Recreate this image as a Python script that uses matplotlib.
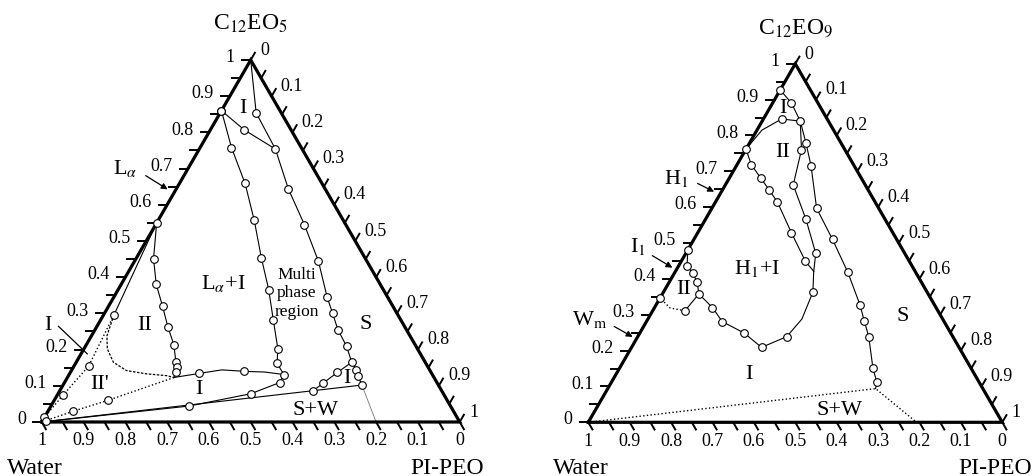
import numpy as np
import matplotlib.pyplot as plt

plt.rcParams['font.family'] = ['Liberation Serif', 'DejaVu Serif']
plt.rcParams['mathtext.fontset'] = 'stix'

SQ3 = np.sqrt(3) / 2

# compositions are (surfactant, water) fractions; PI-PEO = 1 - s - w

# ---- C12EO5 / water / PI-PEO ----
eo5_right_s = [1.0, 0.854, 0.754, 0.644, 0.545, 0.444, 0.344, 0.300, 0.255, 0.209, 0.165]
eo5_right_w = [0.0, 0.060, 0.064, 0.088, 0.099, 0.116, 0.145, 0.154, 0.164, 0.166, 0.176]
eo5_right_m = list(range(1, 11))

eo5_tie_s = [0.86, 0.807, 0.754]
eo5_tie_w = [0.14, 0.112, 0.064]

eo5_mid_s = [0.86, 0.758, 0.659, 0.557, 0.453, 0.366, 0.282, 0.202, 0.162, 0.131, 0.109, 0.078, 0.044, 0.0]
eo5_mid_w = [0.14, 0.167, 0.184, 0.213, 0.248, 0.274, 0.305, 0.334, 0.356, 0.355, 0.376, 0.461, 0.626, 1.0]
eo5_mid_m = list(range(0, 13))

eo5_lobe_s = [0.123, 0.134, 0.144, 0.140, 0.138, 0.131]
eo5_lobe_w = [0.622, 0.557, 0.497, 0.446, 0.397, 0.355]
eo5_lobe_m = [1, 3]

eo5_sw_s = [0.0, 0.102]
eo5_sw_w = [1.0, 0.183]

eo5_loopr_s = [0.165, 0.145, 0.126, 0.102]
eo5_loopr_w = [0.176, 0.175, 0.180, 0.183]
eo5_loopl_s = [0.165, 0.137, 0.108, 0.086]
eo5_loopl_w = [0.176, 0.224, 0.272, 0.308]

eo5_grey_s = [0.102, 0.0]
eo5_grey_w = [0.183, 0.20]

eo5_ii_s = [0.55, 0.451, 0.380, 0.320, 0.262, 0.214, 0.166, 0.153, 0.139, 0.123]
eo5_ii_w = [0.45, 0.507, 0.536, 0.551, 0.567, 0.577, 0.596, 0.600, 0.610, 0.622]
eo5_ii_m = list(range(0, 9))

eo5_pq_s = [0.55, 0.296]
eo5_pq_w = [0.45, 0.679]

eo5_qdot_s = [0.296, 0.154, 0.075, 0.013]
eo5_qdot_w = [0.679, 0.811, 0.911, 0.987]

eo5_jdot_s = [0.123, 0.060, 0.030, 0.004]
eo5_jdot_w = [0.622, 0.811, 0.909, 0.988]

eo5_dash_s = [0.296, 0.238, 0.202, 0.165, 0.142, 0.133, 0.128, 0.123]
eo5_dash_w = [0.679, 0.725, 0.742, 0.746, 0.726, 0.683, 0.637, 0.622]

# ---- C12EO9 / water / PI-PEO ----
eo9_main_s = [0.927, 0.891, 0.840, 0.778, 0.716, 0.597, 0.510, 0.418, 0.327, 0.283, 0.239, 0.151, 0.112, 0.094]
eo9_main_w = [0.073, 0.064, 0.068, 0.085, 0.104, 0.150, 0.155, 0.164, 0.180, 0.192, 0.203, 0.237, 0.247, 0.259]
eo9_main_m = list(range(0, 13))

eo9_iitop_s = [0.762, 0.815, 0.846, 0.840]
eo9_iitop_w = [0.238, 0.173, 0.110, 0.068]
eo9_iitop_m = [0, 2]

eo9_iileft_s = [0.840, 0.760, 0.662, 0.567, 0.471, 0.421]
eo9_iileft_w = [0.068, 0.105, 0.174, 0.191, 0.215, 0.245]
eo9_iileft_m = [1, 2, 3, 4]

eo9_h1_s = [0.762, 0.719, 0.682, 0.649, 0.614, 0.529, 0.449, 0.421]
eo9_h1_w = [0.238, 0.247, 0.243, 0.239, 0.236, 0.245, 0.251, 0.245]
eo9_h1_m = [1, 2, 3, 4, 5, 6]

eo9_loop_s = [0.421, 0.363, 0.288, 0.239, 0.209, 0.249, 0.281, 0.320, 0.358, 0.392, 0.416, 0.437, 0.481]
eo9_loop_w = [0.245, 0.276, 0.340, 0.401, 0.477, 0.499, 0.536, 0.540, 0.554, 0.541, 0.540, 0.543, 0.519]
eo9_loop_m = [1, 3, 4, 5, 6, 7, 8, 9, 10, 11, 12]

eo9_i1_s = [0.358, 0.311]
eo9_i1_w = [0.554, 0.611]

eo9_wm_s = [0.311, 0.319, 0.347]
eo9_wm_w = [0.611, 0.643, 0.653]

eo9_sw_s = [0.0, 0.094, 0.0]
eo9_sw_w = [1.0, 0.259, 0.207]

TICK_FS = 13
REGION_FS = 16
NAME_FS = 17


def tern(s, w):
    s = np.asarray(s, float)
    w = np.asarray(w, float)
    return 1 - w - s / 2, s * SQ3


def curve(ax, s, w, marks=None, ls='-', lw=0.8, color='k'):
    x, y = tern(s, w)
    ax.plot(x, y, color=color, lw=lw, ls=ls, zorder=2)
    if marks is not None:
        ax.plot(x[marks], y[marks], 'o', ms=5.5, mfc='white', mec='k',
                mew=0.8, zorder=4)


def frame(ax, title):
    ax.plot([0, 1, 0.5, 0], [0, 0, SQ3, 0], color='k', lw=2.3,
            solid_joinstyle='miter', zorder=3)
    tl = 0.02
    for t in np.round(np.arange(0, 1.0001, 0.05), 2):
        x, y = t / 2, t * SQ3
        ax.plot([x, x - tl], [y, y], color='k', lw=1.4, zorder=3)
        x = 1 - t
        ax.plot([x, x + tl / 2], [0, -tl * SQ3], color='k', lw=1.4, zorder=3)
        x, y = 0.5 + t / 2, (1 - t) * SQ3
        ax.plot([x, x + tl / 2], [y, y + tl * SQ3], color='k', lw=1.4, zorder=3)
    for t in np.round(np.arange(0, 1.0001, 0.1), 1):
        lab = f'{t:g}'
        ax.text(t / 2 - 0.038, t * SQ3 + 0.008, lab, ha='right', va='center', fontsize=TICK_FS)
        ax.text(1 - t, -0.043, lab, ha='center', va='center', fontsize=TICK_FS)
        ax.text(0.5 + t / 2 + 0.022, (1 - t) * SQ3 + 0.026, lab, ha='left', va='center',
                fontsize=TICK_FS)
    ax.text(0.5, 0.955, title, ha='center', va='center', fontsize=NAME_FS)
    ax.text(-0.017, -0.108, 'Water', ha='center', va='center', fontsize=NAME_FS)
    ax.set_aspect('equal')
    ax.axis('off')


fig = plt.figure(figsize=(10.32, 4.77), dpi=100)
ax1 = fig.add_axes([0, 0, 0.5, 1])
ax1.set_xlim(-0.0998, -0.0998 + 516 / 418)
ax1.set_ylim(-0.1292, -0.1292 + 477 / 418)
ax2 = fig.add_axes([0.5, 0, 0.5, 1])
ax2.set_xlim(-0.1746, -0.1746 + 516 / 414)
ax2.set_ylim(-0.1297, -0.1297 + 477 / 414)

# left diagram
frame(ax1, r'C$_{12}$EO$_5$')
ax1.text(0.97, -0.108, 'PI-PEO', ha='center', va='center', fontsize=NAME_FS)
curve(ax1, eo5_right_s, eo5_right_w, eo5_right_m)
curve(ax1, eo5_tie_s, eo5_tie_w, [0, 1])
curve(ax1, eo5_mid_s, eo5_mid_w, eo5_mid_m)
curve(ax1, eo5_lobe_s, eo5_lobe_w, eo5_lobe_m)
curve(ax1, eo5_sw_s, eo5_sw_w)
curve(ax1, eo5_loopr_s, eo5_loopr_w, [1, 2, 3])
curve(ax1, eo5_loopl_s, eo5_loopl_w, [1, 2, 3])
curve(ax1, eo5_grey_s, eo5_grey_w, lw=0.6, color='0.45')
curve(ax1, eo5_ii_s, eo5_ii_w, eo5_ii_m)
curve(ax1, eo5_pq_s, eo5_pq_w, [1])
curve(ax1, eo5_qdot_s, eo5_qdot_w, [1, 2, 3], ls=':', lw=1.0)
curve(ax1, eo5_jdot_s, eo5_jdot_w, [1, 2, 3], ls=':', lw=1.0)
curve(ax1, eo5_dash_s, eo5_dash_w, ls=(0, (2, 1.2)), lw=0.9)

ax1.text(0.481, 0.753, 'I', ha='center', va='center', fontsize=REGION_FS)
ax1.text(0.434, 0.334, r'L$_\alpha$+I', ha='center', va='center', fontsize=REGION_FS)
ax1.text(0.610, 0.310, 'Multi\nphase\nregion', ha='center', va='center',
         fontsize=12.5, linespacing=1.2)
ax1.text(0.245, 0.234, 'II', ha='center', va='center', fontsize=REGION_FS)
ax1.text(0.139, 0.091, "II'", ha='center', va='center', fontsize=REGION_FS)
ax1.text(0.377, 0.079, 'I', ha='center', va='center', fontsize=REGION_FS)
ax1.text(0.775, 0.236, 'S', ha='center', va='center', fontsize=REGION_FS)
ax1.text(0.730, 0.107, 'I', ha='center', va='center', fontsize=REGION_FS)
ax1.text(0.654, 0.031, 'S+W', ha='center', va='center', fontsize=REGION_FS)
ax1.text(0.014, 0.234, 'I', ha='center', va='center', fontsize=REGION_FS)
ax1.plot([0.040, 0.109], [0.229, 0.163], color='k', lw=0.9, zorder=5)
ax1.text(0.199, 0.610, r'L$_\alpha$', ha='center', va='center', fontsize=REGION_FS)
arrow = dict(arrowstyle='-|>', lw=0.9, color='k', mutation_scale=9)
ax1.annotate('', xy=(0.307, 0.553), xytext=(0.243, 0.593), arrowprops=arrow)

# right diagram
frame(ax2, r'C$_{12}$EO$_9$')
ax2.text(1.072, -0.108, 'PI-PEO', ha='right', va='center', fontsize=NAME_FS)
curve(ax2, eo9_main_s, eo9_main_w, eo9_main_m)
curve(ax2, eo9_iitop_s, eo9_iitop_w, eo9_iitop_m)
curve(ax2, eo9_iileft_s, eo9_iileft_w, eo9_iileft_m)
curve(ax2, eo9_h1_s, eo9_h1_w, eo9_h1_m)
curve(ax2, eo9_loop_s, eo9_loop_w, eo9_loop_m)
curve(ax2, eo9_i1_s, eo9_i1_w, [1])
curve(ax2, eo9_wm_s, eo9_wm_w, [2], ls=':', lw=1.0)
curve(ax2, eo9_sw_s, eo9_sw_w, ls=':', lw=1.0)

ax2.text(0.471, 0.761, 'I', ha='center', va='center', fontsize=REGION_FS)
ax2.text(0.469, 0.654, 'II', ha='center', va='center', fontsize=REGION_FS)
ax2.text(0.407, 0.374, r'H$_1$+I', ha='center', va='center', fontsize=REGION_FS)
ax2.text(0.230, 0.322, 'II', ha='center', va='center', fontsize=REGION_FS)
ax2.text(0.387, 0.117, 'I', ha='center', va='center', fontsize=REGION_FS)
ax2.text(0.759, 0.259, 'S', ha='center', va='center', fontsize=REGION_FS)
ax2.text(0.608, 0.032, 'S+W', ha='center', va='center', fontsize=REGION_FS)

ax2.text(0.2135, 0.592, r'H$_1$', ha='center', va='center', fontsize=REGION_FS)
ax2.annotate('', xy=(0.310, 0.554), xytext=(0.258, 0.580), arrowprops=arrow)
ax2.text(0.121, 0.427, r'I$_1$', ha='center', va='center', fontsize=REGION_FS)
ax2.annotate('', xy=(0.209, 0.370), xytext=(0.149, 0.406), arrowprops=arrow)
ax2.text(0.004, 0.251, r'W$_{\rm m}$', ha='center', va='center', fontsize=REGION_FS)
ax2.annotate('', xy=(0.113, 0.203), xytext=(0.0565, 0.235), arrowprops=arrow)

fig.savefig('out.png', dpi=100)
